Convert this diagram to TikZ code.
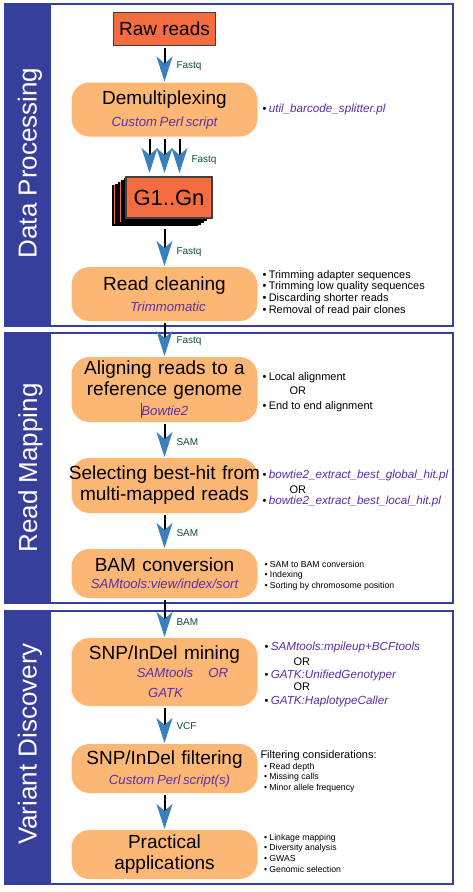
\documentclass[tikz,border=0pt]{standalone}
\usepackage{fontspec}
\setmainfont{Liberation Sans}
\usetikzlibrary{positioning,arrows.meta}
\definecolor{panelblue}{HTML}{373F9C}
\definecolor{rawred}{HTML}{F56C40}
\definecolor{stepfill}{HTML}{FDB775}
\definecolor{toolblue}{HTML}{5B2FA8}
\definecolor{flowblue}{HTML}{3A80BC}
\definecolor{fmtgreen}{HTML}{0B4F45}
\tikzset{
  every node/.style={inner sep=0pt,outer sep=0pt},
  panel/.style={draw=panelblue,line width=1.6pt},
  rawbox/.style={draw=black!75,line width=1.8pt,fill=rawred,font=\fontsize{19}{22}\selectfont,minimum height=33pt},
  stepbox/.style={fill=stepfill,rounded corners=18pt,text width=186pt,align=center,font=\fontsize{19}{21}\selectfont},
  flow/.style={line width=2pt,shorten <=2pt,shorten >=1pt,-{Stealth[length=25pt,width=16pt,inset=7pt,color=flowblue]}},
  fmt/.style={text=fmtgreen,font=\fontsize{10}{12}\selectfont},
  side/.style={text=white,rotate=90,font=\fontsize{26}{30}\selectfont},
  notes/.style={align=left,font=\fontsize{11}{11.8}\selectfont},
  smallnotes/.style={align=left,font=\fontsize{8.7}{10.6}\selectfont},
}
\newcommand{\tool}[1]{{\fontsize{13.2}{16}\selectfont\itshape\spaceskip=.2em\color{toolblue}#1}}
\newcommand{\script}[1]{{\fontsize{11.7}{14}\selectfont\itshape\color{toolblue}#1}}
\newcommand{\bul}{\textbullet\hspace{2.4pt}}
\begin{document}
\begin{tikzpicture}[x=1pt,y=-1pt]
\useasboundingbox (0,0) rectangle (472,892);
\fill[white] (0,0) rectangle (472,892);

% panels
\foreach \ytop/\ybot in {4/326,333/603,611/884}{
  \draw[panel] (4.5,\ytop) rectangle (453,\ybot);
  \fill[panelblue] (4.5,\ytop) rectangle (51,\ybot);
}
\node[side] (dataside) at (30,163) {Data Processing};
\node[side] (mapside) at (30.5,468) {Read Mapping};
\node[side] (varside) at (30,744) {Variant Discovery};

% boxes
\node[rawbox,minimum width=102pt] (raw) at (164.5,29) {Raw reads};
\node[stepbox,minimum height=54pt,below=37pt of raw] (demux) {Demultiplexing\hspace*{6pt}\\[1pt]\tool{Custom Perl script}};
\foreach \dd in {14,11,8,5,2}{
  \node[fill=black,minimum width=86pt,minimum height=41pt] at (169-\dd,197.5+\dd*.6) {};
}
\draw[rawred,line width=.7pt] (114.5,185) -- (114.5,224);
\draw[rawred,line width=.7pt] (120,182) -- (120,222);
\node[rawbox,minimum width=86pt,minimum height=41pt,font=\fontsize{22}{24}\selectfont] (gen) at (169,197.5) {G1..Gn};
\node[stepbox,minimum height=54pt] (clean) at (164.5,294) {Read cleaning\hspace*{6pt}\\[-.5pt]\hspace*{7pt}\tool{Trimmomatic}};
\node[stepbox,minimum height=65pt,below=36pt of clean] (align) {Aligning reads to a\\reference genome\hspace*{5pt}\\[-1pt]\textcolor{toolblue}{\rule[-3pt]{.7pt}{15pt}}\tool{Bowtie2}\hspace*{3pt}};
\node[stepbox,minimum height=55pt,below=36pt of align] (best) {\makebox[186pt]{Selecting best-hit from}\\multi-mapped reads};
\node[stepbox,minimum height=49pt,below=36pt of best] (bam) {BAM conversion\hspace*{6pt}\\[-4pt]\tool{SAMtools:view/index/sort}};
\node[stepbox,minimum height=68pt,below=40pt of bam] (mining) {SNP/InDel mining\hspace*{6pt}\\[-3pt]\hspace*{36pt}\tool{SAMtools\hspace{15pt}OR}\\[-1pt]\hspace*{2pt}\tool{GATK}};
\node[stepbox,minimum height=49pt,below=38pt of mining] (filt) {SNP/InDel filtering\hspace*{6pt}\\[-1pt]\hspace*{10pt}\tool{Custom Perl script(s)}};
\node[stepbox,minimum height=49pt,below=37pt of filt] (apps) {Practical\\applications\hspace*{5pt}};

% connectors
\coordinate (gentop) at (164.5,174);
\coordinate (genbot) at (164.5,228);
\draw[flow] (raw) -- (demux);
\foreach \dx in {-15,0,15}{
  \draw[flow] ([xshift=\dx pt]demux.south) -- ([xshift=\dx pt]gentop);
}
\draw[flow,shorten <=1pt] (genbot) -- (clean);
\draw[flow] (clean) -- (align);
\draw[flow] (align) -- (best);
\draw[flow] (best) -- (bam);
\draw[flow] (bam) -- (mining);
\draw[flow] (mining) -- (filt);
\draw[flow] (filt) -- (apps);

% format labels
\node[fmt,anchor=west] (f1) at (176.5,66) {Fastq};
\node[fmt,anchor=west] (f2) at (191.5,160) {Fastq};
\node[fmt,anchor=west] (f3) at (176.5,252) {Fastq};
\node[fmt,anchor=west] (f4) at (176.5,341) {Fastq};
\node[fmt,anchor=west] (f5) at (176.5,442) {SAM};
\node[fmt,anchor=west] (f6) at (176.5,533) {SAM};
\node[fmt,anchor=west] (f7) at (176.5,622) {BAM};
\node[fmt,anchor=west] (f8) at (176.5,726) {VCF};

% notes
\node[notes,right=5pt of demux] (demuxnote) {\bul\script{util\_barcode\_splitter.pl}};
\node[notes,right=5pt of clean,yshift=1pt] (cleannote) {\bul Trimming adapter sequences\\\bul Trimming low quality sequences\\\bul Discarding shorter reads\\\bul Removal of read pair clones};
\node[notes,right=5pt of align,yshift=-2.5pt] (alignnote) {\bul Local alignment\\[2.7pt]\hspace*{27pt}OR\\[2.7pt]\bul End to end alignment};
\node[notes,right=5pt of best,yshift=-3pt] (bestnote) {\bul\script{bowtie2\_extract\_best\_global\_hit.pl}\\[3.2pt]\hspace*{27pt}OR\\[-.8pt]\bul\script{bowtie2\_extract\_best\_local\_hit.pl}};
\node[smallnotes,right=7pt of bam,yshift=-2pt] (bamnote) {\bul SAM to BAM conversion\\\bul Indexing\\\bul Sorting by chromosome position};
\node[notes,right=7pt of mining,yshift=-2pt] (miningnote) {\bul\script{SAMtools:mpileup+BCFtools}\\[3.2pt]\hspace*{29pt}OR\\[1.2pt]\bul\script{GATK:UnifiedGenotyper}\\[.2pt]\hspace*{29pt}OR\\[2.2pt]\bul\script{GATK:HaplotypeCaller}};
\node[smallnotes,right=3pt of filt,yshift=-3pt] (filtnote) {{\fontsize{11}{12}\selectfont Filtering considerations:}\\\hspace*{3.5pt}\bul Read depth\\\hspace*{3.5pt}\bul Missing calls\\\hspace*{3.5pt}\bul Minor allele frequency};
\node[smallnotes,right=6.5pt of apps,yshift=1.5pt] (appsnote) {\bul Linkage mapping\\\bul Diversity analysis\\\bul GWAS\\\bul Genomic selection};
\end{tikzpicture}
\end{document}
